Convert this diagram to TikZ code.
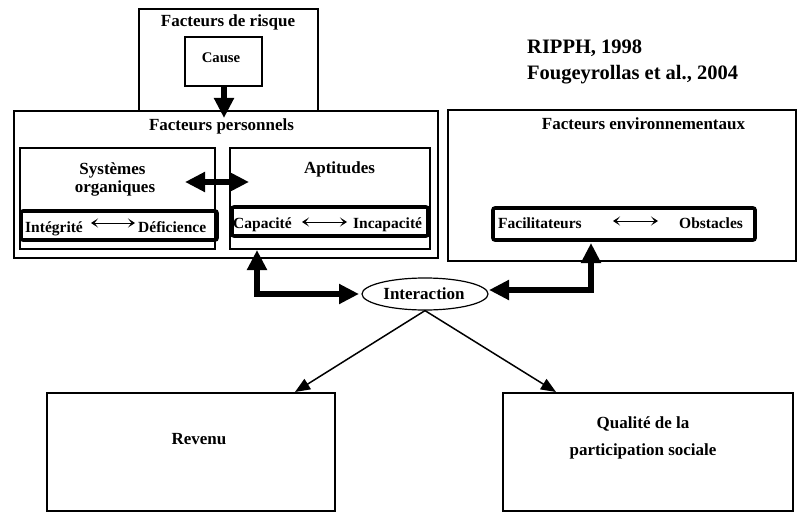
\documentclass[tikz,border=0pt]{standalone}
\usepackage{fontspec}
\setmainfont{Liberation Serif}
\usetikzlibrary{arrows.meta,shapes.geometric,calc}
\begin{document}
\begin{tikzpicture}[x=1pt,y=-1pt,
  thinbox/.style={draw,line width=1.1pt,inner sep=0pt},
  thickbox/.style={draw,line width=2.6pt,inner sep=0pt},
  bandbox/.style={draw,line width=3.6pt,rounded corners=2pt,inner sep=0pt},
  lbl/.style={inner sep=0pt,font=\bfseries\fontsize{17}{20}\selectfont},
  causelbl/.style={inner sep=0pt,font=\bfseries\fontsize{14.7}{17}\selectfont},
  small/.style={inner sep=0pt,font=\bfseries\fontsize{15.5}{18}\selectfont},
  big/.style={inner sep=0pt,font=\bfseries\fontsize{20.5}{24}\selectfont},
  fatarrow/.style={line width=6pt,line join=miter,-{Triangle[length=20pt,width=19pt]}},
  fatdouble/.style={line width=6pt,line join=miter,{Triangle[length=20pt,width=19pt]}-{Triangle[length=20pt,width=19pt]}},
  thinarrow/.style={line width=1.5pt,-{Triangle[length=15pt,width=12pt]}},
  swap/.style={line width=0.8pt,{Stealth[length=7pt,width=9pt,inset=3.5pt]}-{Stealth[length=7pt,width=9pt,inset=3.5pt]}}
]
\useasboundingbox (0,0) rectangle (803,516);

% boxes
\node[thinbox,minimum width=179pt,minimum height=102pt] (risk) at (228.5,60) {};
\node[thickbox,minimum width=77pt,minimum height=49pt] (cause) at (223.5,61.5) {};
\node[thinbox,minimum width=424pt,minimum height=147pt] (pers) at (226,184.5) {};
\node[thickbox,minimum width=195pt,minimum height=101pt] (sys) at (117.5,198.5) {};
\node[thickbox,minimum width=200pt,minimum height=101pt] (apt) at (330,198.5) {};
\node[thinbox,minimum width=348pt,minimum height=151pt] (env) at (622,185.5) {};
\node[thinbox,minimum width=288pt,minimum height=118pt] (rev) at (191,452) {};
\node[thinbox,minimum width=290pt,minimum height=118pt] (qual) at (648,452) {};
\node[draw,ellipse,line width=1.2pt,minimum width=126pt,minimum height=32pt,inner sep=0pt] (inter) at (425,294) {};

% texts
\node[lbl,anchor=base] (trisk) at (228,27) {Facteurs de risque};
\node[causelbl,anchor=base] (tcause) at (221,63) {Cause};
\node[big,anchor=base west] (tripph) at (527,54) {RIPPH, 1998};
\node[big,anchor=base west] (tfoug) at (527,80) {Fougeyrollas et al., 2004};
\node[lbl,anchor=base] (tpers) at (221.5,131) {Facteurs personnels};
\node[lbl,anchor=base] (tsys1) at (112.5,175) {Systèmes};
\node[lbl,anchor=base] (tsys2) at (115,192) {organiques};
\node[lbl,anchor=base] (tapt) at (339.5,173) {Aptitudes};
\node[lbl,anchor=base] (tenv) at (643.5,130) {Facteurs environnementaux};
\node[lbl,anchor=base] (tinter) at (424,299) {Interaction};
\node[lbl,anchor=base] (trev) at (199,444) {Revenu};
\node[lbl,anchor=base] (tqual1) at (643,428) {Qualité de la};
\node[lbl,anchor=base] (tqual2) at (643,455) {participation sociale};

\node[small,anchor=base west] (tint) at (25,232) {Intégrité};
\node[small,anchor=base west] (tdef) at (138,232) {Déficience};
\node[small,anchor=base west] (tcap) at (233,228) {Capacité};
\node[small,anchor=base west] (tinc) at (353,228) {Incapacité};
\node[small,anchor=base west] (tfac) at (498,228) {Facilitateurs};
\node[small,anchor=base west] (tobs) at (679,228) {Obstacles};

% bands with the two poles
\node[bandbox,minimum width=196pt,minimum height=29pt] (integ) at (119,225.5) {};
\node[bandbox,minimum width=196pt,minimum height=29pt] (capa) at (330,221.5) {};
\node[bandbox,minimum width=262pt,minimum height=32pt] (facil) at (624,224) {};

% small two-way arrows between the poles
\coordinate (ia) at (91,223);  \coordinate (ib) at (135,223);
\coordinate (ca) at (302,222); \coordinate (cb) at (347,222);
\coordinate (fa) at (613,221); \coordinate (fb) at (658,221);
\draw[swap] (ia) -- (ib);
\draw[swap] (ca) -- (cb);
\draw[swap] (fa) -- (fb);

% thick connectors
\coordinate (causetip) at (224,118);
\draw[fatarrow] (cause.south -| causetip) -- (causetip);

\coordinate (sa) at (185,182); \coordinate (sb) at (249,182);
\draw[fatdouble] (sa) -- (sb);

\coordinate (aptfoot) at (257,250);
\coordinate (interw) at (359,294);
\draw[fatdouble] (aptfoot) |- (interw);

\coordinate (facfoot) at (591,243);
\coordinate (intere) at (489,290);
\coordinate (elbow) at (591,293);
\draw[line width=6pt] (elbow) -- (591,262);
\draw[fatdouble] (facfoot) |- (intere);

% outcomes
\coordinate (revtop) at (295,392);
\coordinate (qualtop) at (556,392);
\draw[thinarrow] (inter.south) -- (revtop);
\draw[thinarrow] (inter.south) -- (qualtop);
\end{tikzpicture}
\end{document}
